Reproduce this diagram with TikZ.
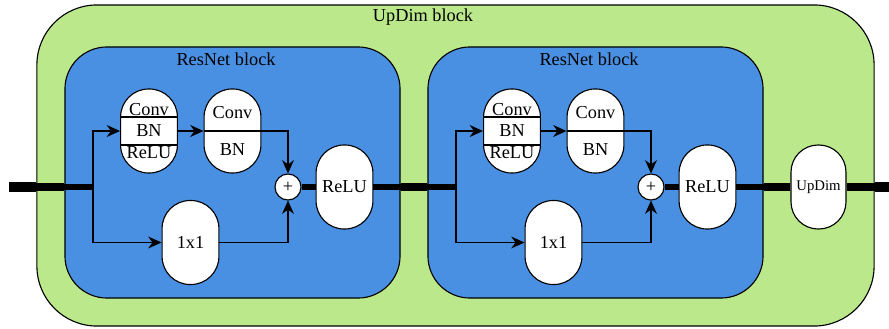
\documentclass[tikz,border=0pt]{standalone}
\usepackage{fontspec}
\setmainfont{Liberation Serif}
\usepackage{tikz}
\usetikzlibrary{arrows.meta,positioning,calc}
\definecolor{updimgreen}{RGB}{187,232,138}
\definecolor{resblue}{RGB}{74,144,226}
\tikzstyle{pill}=[draw=black, fill=white, line width=0.8pt, rounded corners=0.7cm, minimum width=1.42cm, minimum height=2.1cm, inner sep=0pt, align=center, font=\fontsize{13}{15.6}\selectfont]
\tikzstyle{sum}=[circle, draw=black, fill=white, line width=0.8pt, minimum size=0.65cm, inner sep=0pt, font=\fontsize{13}{15}\selectfont]
\tikzstyle{flow}=[draw=black, line width=0.9pt, -{Stealth[length=9.5pt, width=8.5pt]}]
\tikzstyle{lab}=[font=\fontsize{13}{15.6}\selectfont]
\tikzstyle{inline}=[line width=3.9pt]
\tikzstyle{midline}=[line width=6pt]
\tikzstyle{outline}=[line width=7.8pt]

\begin{document}
\begin{tikzpicture}[x=0.025cm, y=-0.025cm]
      \useasboundingbox (0,0) rectangle (889,329);
      % outer block
      \node at (455.5,165.5) [draw=black, fill=updimgreen, line width=0.8pt, rounded corners=1.5cm, minimum width=20.925cm, minimum height=8.025cm, inner sep=0pt] (updimbox) {};
      \node at (423,17) [lab] (updimtitle) {UpDim block};
      %
      \foreach \b/\dx in {1/0,2/363}{
        \begin{scope}[shift={(\dx,0)}]
          \node at (232.5,172.5) [draw=black, fill=resblue, line width=0.8pt, rounded corners=1.05cm, minimum width=8.375cm, minimum height=6.275cm, inner sep=0pt] (res\b) {};
          \node at (226,59) [lab] (restitle\b) {ResNet block};
          \coordinate (split\b) at (93,187);
          \node at (149,131) [pill] (cbr\b) {Conv\\BN\\ReLU};
          \draw[line width=0.8pt] ([yshift=0.35cm]cbr\b.west) -- ([yshift=0.35cm]cbr\b.east);
          \draw[line width=0.8pt] ([yshift=-0.35cm]cbr\b.west) -- ([yshift=-0.35cm]cbr\b.east);
          \node at (232.5,131) [pill] (cb\b) {Conv\\[10.5pt]BN};
          \draw[line width=0.8pt] (cb\b.west) -- (cb\b.east);
          \node at (190.5,242.5) [pill] (one\b) {1x1};
          \node at (288,187) [sum] (sum\b) {+};
          \node at (344.5,187) [pill] (relu\b) {ReLU};
          %
          \draw[flow] (split\b) |- (cbr\b.west);
          \draw[flow] (split\b) |- (one\b.west);
          \draw[flow] (cbr\b.east) -- (cb\b.west);
          \draw[flow] (cb\b.east) -| (sum\b.north);
          \draw[flow] (one\b.east) -| (sum\b.south);
          \draw[inline] (sum\b.east) -- (relu\b.west);
          \draw[inline] (relu\b.east) -- (res\b.east |- relu\b);
          \draw[inline] (res\b.west |- split\b) -- (split\b);
        \end{scope}
      }
      %
      \node at (818.5,187) [pill, minimum width=1.375cm, rounded corners=0.68cm, font=\fontsize{10.5}{12}\selectfont] (updim) {UpDim};
      \coordinate (inL) at (9,187);
      \coordinate (outR) at (889,187);
      \draw[outline] (inL) -- (updimbox.west |- inL);
      \draw[midline] (updimbox.west |- inL) -- (res1.west |- inL);
      \draw[midline] (res1.east |- split1) -- (res2.west |- split2);
      \draw[midline] (res2.east |- updim) -- (updim.west);
      \draw[midline] (updim.east) -- (updimbox.east |- updim);
      \draw[outline] (updimbox.east |- updim) -- (outR);
      \end{tikzpicture}
\end{document}
